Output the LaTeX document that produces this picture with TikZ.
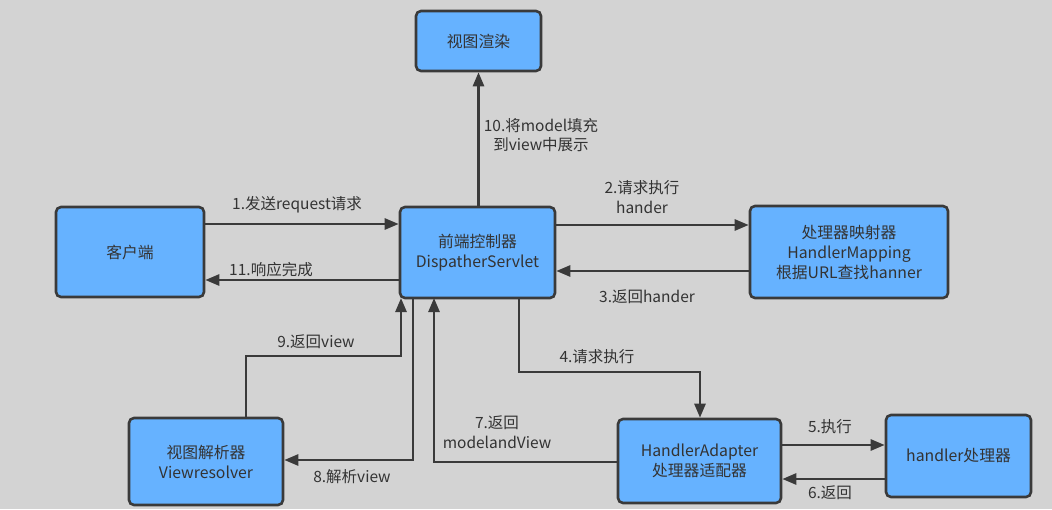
\documentclass[tikz,border=0pt]{standalone}
\usepackage{fontspec}
\setmainfont{Noto Sans CJK SC}
\usetikzlibrary{arrows.meta}
\definecolor{bg}{HTML}{D3D3D3}
\definecolor{boxfill}{HTML}{66B2FF}
\definecolor{edge}{HTML}{3A3A3A}
\definecolor{txt}{HTML}{333333}
\begin{document}
\begin{tikzpicture}[x=1pt,y=-1pt,
  box/.style={draw=edge,line width=2.6pt,fill=boxfill,rounded corners=5pt,align=center,text=txt,font=\fontsize{15.8}{20}\selectfont,inner sep=0pt},
  conn/.style={draw=edge,line width=2.6pt,-{Triangle[length=14pt,width=11pt]}},
  lab/.style={text=txt,font=\fontsize{15.5}{19.5}\selectfont,align=center,inner sep=1pt}]
\fill[bg] (0,0) rectangle (1052,509);
\useasboundingbox (0,0) rectangle (1052,509);
\node[box,minimum width=125pt,minimum height=60pt] (render) at (478.5,41) {视图渲染};
\node[box,minimum width=148pt,minimum height=90pt] (client) at (130,252) {客户端};
\node[box,minimum width=155pt,minimum height=91pt] (ds) at (477.5,252.5) {前端控制器\\DispatherServlet};
\node[box,minimum width=198pt,minimum height=92pt] (hm) at (849,252) {处理器映射器\\HandlerMapping\\根据URL查找hanner};
\node[box,minimum width=154pt,minimum height=87pt] (vr) at (206,461.5) {视图解析器\\Viewresolver};
\node[box,minimum width=163pt,minimum height=84pt] (ha) at (699.5,461) {HandlerAdapter\\处理器适配器};
\node[box,minimum width=145pt,minimum height=82pt] (hd) at (958.5,456) {handler处理器};
% 10
\draw[conn] (ds.north -| render.south) -- (render.south);
\node[lab] (l10) at (541,135) {10.将model填充\\到view中展示};
% 1
\draw[conn] (client.east |- 0,224) -- (ds.west |- 0,224);
\node[lab] (l1) at (297,205) {1.发送request请求};
% 11
\draw[conn] (ds.west |- 0,280) -- (client.east |- 0,280);
\node[lab] (l11) at (271,270) {11.响应完成};
% 2
\draw[conn] (ds.east |- 0,225) -- (hm.west |- 0,225);
\node[lab] (l2) at (642,197) {2.请求执行\\hander};
% 3
\draw[conn] (hm.west |- 0,271) -- (ds.east |- 0,271);
\node[lab] (l3) at (647,297) {3.返回hander};
% 4
\coordinate (d4) at (519,298);
\draw[conn] (d4) |- (700,372) -- (ha.north -| 700,0);
\node[lab] (l4) at (597,357) {4.请求执行};
% 5
\draw[conn] (ha.east |- 0,445) -- (hd.west |- 0,445);
\node[lab] (l5) at (830,427) {5.执行};
% 6
\draw[conn] (hd.west |- 0,479) -- (ha.east |- 0,479);
\node[lab] (l6) at (830,493) {6.返回};
% 7
\coordinate (d7) at (434,298);
\draw[conn] (ha.west |- 0,462) -| (d7);
\node[lab] (l7) at (497,432) {7.返回\\modelandView};
% 8
\coordinate (d8) at (413,298);
\draw[conn] (d8) |- (vr.east |- 0,460);
\node[lab] (l8) at (352,477) {8.解析view};
% 9
\coordinate (d9) at (401,298);
\draw[conn] (vr.north -| 246,0) |- (401,356) -- (d9);
\node[lab] (l9) at (316,342) {9.返回view};
\end{tikzpicture}
\end{document}
